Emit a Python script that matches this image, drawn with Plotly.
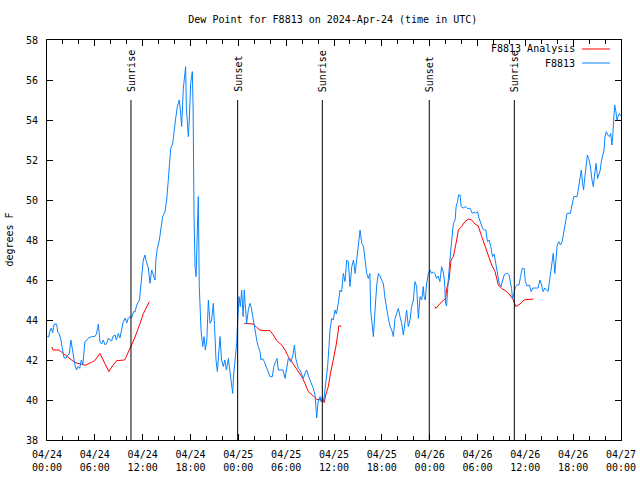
import pandas as pd
import plotly.graph_objects as go

BASE = pd.Timestamp("2024-04-24 00:00")

# ---- F8813 observations (hours after 04/24 00:00 UTC, dew point F) ----
obs_hours = [
    0.0, 0.2, 0.4, 0.55, 0.7, 0.9, 1.2, 1.35, 1.55, 1.75, 1.95, 2.15, 2.4, 2.6, 2.8, 3.0, 3.2, 3.5, 3.7, 3.9,
    4.1, 4.3, 4.5, 4.75, 5.0, 5.2, 5.6, 6.0, 6.2, 6.45, 6.65, 6.85, 7.05, 7.3, 7.5, 7.7, 7.9, 8.1, 8.3, 8.55,
    8.7, 8.95, 9.15, 9.35, 9.55, 9.8, 10.0, 10.2, 10.4, 10.6, 10.85, 11.05, 11.25, 11.6, 11.87, 12.08, 12.29, 12.4, 12.71, 12.92,
    13.13, 13.35, 13.55, 13.67, 13.84, 14.09, 14.26, 14.51, 14.8, 15.01, 15.18, 15.35, 15.52, 15.77, 15.93, 16.14, 16.35, 16.6, 16.75, 16.89,
    17.1, 17.27, 17.39, 17.48, 17.73, 17.85, 18.02, 18.23, 18.33, 18.44, 18.57, 18.7, 18.86, 18.98, 19.1, 19.32, 19.53, 19.7, 19.86, 20.05,
    20.24, 20.45, 20.65, 20.86, 21.0, 21.2, 21.37, 21.5, 21.7, 21.9, 22.12, 22.3, 22.5, 22.75, 22.95, 23.17, 23.29, 23.4, 23.58, 23.79,
    23.92, 24.09, 24.25, 24.42, 24.6, 24.75, 24.85, 25.04, 25.25, 25.46, 25.6, 25.8, 26.0, 26.17, 26.34, 26.51, 26.72, 26.84, 27.05, 27.26,
    27.47, 27.68, 27.97, 28.27, 28.45, 28.68, 28.85, 29.02, 29.6, 29.86, 30.05, 30.27, 30.6, 30.85, 31.03, 31.2, 31.36, 31.53, 31.75, 31.95,
    32.15, 32.35, 32.57, 32.8, 33.0, 33.2, 33.4, 33.62, 33.83, 34.0, 34.25, 34.4, 34.55, 34.7, 34.87, 35.04, 35.2, 35.37, 35.5, 35.71,
    35.9, 36.13, 36.3, 36.54, 36.75, 36.96, 37.17, 37.38, 37.6, 37.8, 37.9, 38.0, 38.23, 38.44, 38.65, 38.85, 39.06, 39.27, 39.48, 39.69,
    39.9, 40.1, 40.31, 40.5, 40.6, 40.77, 40.94, 41.15, 41.36, 41.57, 41.78, 41.98, 42.2, 42.4, 42.6, 42.82, 43.03, 43.24, 43.45, 43.65,
    43.86, 44.07, 44.28, 44.49, 44.7, 44.9, 45.11, 45.32, 45.53, 45.74, 45.95, 46.16, 46.37, 46.58, 46.79, 47.0, 47.2, 47.3, 47.45, 47.6,
    47.83, 48.05, 48.25, 48.45, 48.65, 48.86, 49.07, 49.28, 49.5, 49.7, 49.85, 50.0, 50.12, 50.33, 50.48, 50.65, 50.77, 50.98, 51.19, 51.32,
    51.5, 51.61, 51.82, 51.95, 52.2, 52.5, 52.73, 53.05, 53.36, 53.57, 53.78, 54.0, 54.2, 54.41, 54.62, 54.83, 55.04, 55.25, 55.46, 55.67,
    55.88, 56.09, 56.3, 56.5, 56.72, 56.93, 57.14, 57.35, 57.55, 57.76, 57.97, 58.1, 58.27, 58.39, 58.52, 58.62, 58.77, 59.0, 59.2, 59.4,
    59.6, 59.85, 60.0, 60.2, 60.5, 60.74, 60.95, 61.4, 61.6, 61.82, 62.0, 62.23, 62.44, 62.65, 62.86, 63.08, 63.29, 63.5, 63.7, 63.85,
    64.0, 64.2, 64.4, 64.62, 64.83, 64.95, 65.23, 65.65, 65.85, 66.07, 66.5, 66.7, 66.9, 67.02, 67.18, 67.3, 67.45, 67.61, 67.78, 67.95,
    68.15, 68.36, 68.53, 68.7, 68.86, 69.07, 69.2, 69.4, 69.53, 69.7, 69.87, 69.99, 70.16, 70.33, 70.54, 70.7, 70.87, 71.0, 71.12, 71.2,
    71.37, 71.5, 71.62, 71.8, 71.95,
]
obs_values = [
    43.2, 43.15, 43.5, 43.6, 43.35, 43.8, 43.8, 43.4, 43.3, 43.0, 42.5, 42.1, 42.1, 42.25, 42.3, 43.0, 42.5, 41.75, 41.5, 41.67,
    41.58, 42.0, 41.8, 42.9, 43.0, 43.1, 43.17, 43.17, 43.3, 43.8, 42.9, 42.8, 43.0, 42.75, 42.85, 43.1, 43.0, 42.95, 43.2, 43.25,
    43.0, 43.33, 43.1, 43.6, 43.9, 44.1, 43.85, 44.1, 44.17, 44.1, 44.42, 44.4, 44.75, 45.0, 46.17, 47.0, 47.25, 47.0, 46.6, 45.83,
    46.5, 46.17, 46.0, 47.08, 47.58, 48.0, 48.5, 49.17, 49.42, 50.0, 50.83, 51.67, 52.58, 52.83, 53.5, 54.08, 54.67, 55.0, 54.4, 53.67,
    55.58, 56.5, 56.67, 54.67, 53.17, 54.0, 55.83, 56.42, 54.5, 49.33, 46.67, 46.17, 49.17, 50.17, 45.67, 43.5, 42.67, 43.17, 42.5, 43.0,
    45.0, 43.83, 44.0, 44.83, 43.83, 42.0, 41.42, 42.17, 43.17, 42.0, 41.67, 42.0, 41.5, 42.08, 41.33, 40.58, 40.33, 41.2, 42.0, 42.83,
    44.0, 45.17, 44.67, 45.5, 44.17, 45.5, 44.83, 43.83, 44.5, 44.83, 44.67, 44.17, 43.83, 43.25, 42.92, 42.67, 42.42, 42.0, 42.08, 41.92,
    41.67, 41.5, 41.17, 41.17, 41.67, 41.92, 42.08, 41.5, 41.5, 41.08, 41.67, 42.08, 41.9, 42.25, 42.75, 42.08, 41.83, 41.58, 41.5, 41.33,
    41.08, 41.33, 41.5, 41.2, 41.0, 40.75, 40.58, 40.25, 39.1, 39.9, 40.17, 39.9, 40.17, 39.92, 40.58, 41.0, 41.67, 42.67, 43.5, 44.08,
    44.0, 44.5, 44.3, 44.83, 45.5, 45.4, 46.33, 45.92, 47.0, 46.9, 45.8, 45.67, 46.67, 47.0, 46.33, 47.17, 47.75, 48.5, 47.83, 47.7,
    47.0, 46.33, 46.08, 46.33, 44.5, 43.67, 43.17, 44.5, 45.75, 46.33, 46.2, 46.0, 45.8, 45.08, 44.5, 44.08, 43.67, 43.5, 43.17, 44.08,
    44.33, 44.58, 44.17, 43.83, 43.25, 44.0, 44.5, 43.67, 44.0, 44.67, 45.0, 45.92, 45.67, 44.08, 45.17, 45.0, 45.67, 45.17, 45.0, 45.75,
    46.33, 46.5, 46.33, 46.4, 46.33, 46.08, 46.2, 45.92, 46.67, 46.4, 46.0, 44.83, 44.7, 46.0, 47.0, 47.5, 48.0, 48.83, 49.0, 49.67,
    49.92, 50.25, 50.25, 49.67, 49.6, 49.67, 49.58, 49.58, 49.33, 49.4, 49.33, 49.42, 49.08, 48.83, 48.6, 48.5, 48.5, 47.92, 48.0, 47.67,
    47.17, 47.3, 46.83, 46.33, 45.83, 45.67, 46.0, 46.25, 46.33, 46.33, 46.25, 46.0, 45.58, 45.08, 45.17, 45.42, 45.67, 45.75, 45.75, 46.17,
    46.58, 46.58, 45.92, 45.7, 45.75, 45.42, 45.6, 45.6, 45.6, 46.0, 45.8, 45.42, 45.6, 45.5, 45.42, 46.08, 46.67, 47.33, 46.33, 47.0,
    47.75, 47.92, 47.75, 47.92, 48.42, 48.75, 49.33, 49.33, 49.67, 50.17, 50.17, 50.67, 51.0, 51.5, 50.83, 50.5, 51.08, 51.67, 52.25, 52.08,
    51.7, 51.0, 50.67, 51.3, 51.83, 51.08, 51.25, 51.5, 51.92, 52.17, 52.5, 53.17, 53.42, 53.25, 53.17, 53.33, 52.75, 53.42, 54.33, 54.75,
    54.4, 54.0, 54.17, 54.33, 54.2,
]

# ---- F8813 Analysis (three daytime segments) ----
ana1_hours = [0.6, 0.75, 1.5, 2.25, 3.0, 3.5, 4.25, 4.75, 5.5, 6.0, 6.65, 7.25, 7.75, 8.3, 8.75, 9.75, 10.4, 11.0, 11.67, 12.1, 12.84]
ana1_values = [42.65, 42.5, 42.5, 42.25, 42.0, 41.87, 41.8, 41.73, 41.87, 41.97, 42.33, 41.8, 41.42, 41.75, 41.97, 42.0, 42.6, 43.1, 43.83, 44.33, 44.92]
ana2_hours = [24.75, 25.3, 25.9, 26.3, 26.72, 27.35, 27.97, 28.39, 28.81, 29.44, 29.86, 30.27, 30.69, 31.11, 31.53, 31.95, 32.36, 32.78,
              33.4, 33.83, 34.46, 34.79, 34.96, 35.29, 35.5, 35.9, 36.25, 36.55, 36.6, 36.9]
ana2_values = [43.83, 43.8, 43.8, 43.63, 43.5, 43.47, 43.47, 43.25, 42.97, 42.75, 42.5, 42.17, 41.92, 41.67, 41.42, 41.17, 40.83, 40.42,
               40.2, 40.03, 40.0, 39.87, 40.25, 40.67, 41.2, 42.0, 42.7, 43.5, 43.7, 43.7]
ana3_hours = [48.67, 48.8, 49.3, 49.7, 50.0, 50.14, 50.43, 50.68, 50.97, 51.39, 51.6, 52.0, 52.43, 52.85, 53.27, 53.69, 54.1, 54.53,
              54.94, 55.36, 55.78, 56.2, 56.61, 57.03, 57.66, 58.08, 58.5, 58.8, 59.33, 59.8, 60.4, 61.0]
ana3_values = [44.67, 44.58, 44.83, 45.0, 45.08, 45.58, 46.0, 47.0, 47.17, 48.0, 48.5, 48.67, 48.92, 49.05, 49.0, 48.8, 48.7, 48.17,
               47.67, 47.25, 46.75, 46.42, 45.75, 45.58, 45.42, 45.25, 45.0, 44.67, 44.8, 45.0, 45.03, 45.05]

# ---- Sun events ----
sun_labels = ["Sunrise", "Sunset", "Sunrise", "Sunset", "Sunrise"]
sun_times = ["2024-04-24 10:32", "2024-04-24 23:55", "2024-04-25 10:32", "2024-04-25 23:57", "2024-04-26 10:37"]
sun_line_top = 55.0

y_min, y_max = 38, 58
x_start, x_end = "2024-04-24 00:00", "2024-04-27 00:00"


def to_time(hours):
    return list(BASE + pd.to_timedelta(hours, unit="h"))


ana_x, ana_y = [], []
for hs, vs in [(ana1_hours, ana1_values), (ana2_hours, ana2_values), (ana3_hours, ana3_values)]:
    if ana_x:
        ana_x.append(None)
        ana_y.append(None)
    ana_x += to_time(hs)
    ana_y += vs

RED = "#ff0000"
BLUE = "#0a84ff"
FONT = "DejaVu Sans Mono"

fig = go.Figure()
fig.add_trace(go.Scatter(x=ana_x, y=ana_y, mode="lines", line=dict(color=RED, width=1),
                         name="F8813 Analysis", connectgaps=False, showlegend=False))
fig.add_trace(go.Scatter(x=to_time(obs_hours), y=obs_values, mode="lines", line=dict(color=BLUE, width=1),
                         name="F8813", showlegend=False))

for lab, t in zip(sun_labels, sun_times):
    fig.add_shape(type="line", xref="x", yref="y", x0=t, x1=t, y0=y_min, y1=sun_line_top,
                  line=dict(color="black", width=1))
    fig.add_annotation(x=t, y=sun_line_top, xref="x", yref="y", text=lab, textangle=-90,
                       showarrow=False, xanchor="center", yanchor="bottom", yshift=6,
                       font=dict(family=FONT, size=10, color="black"))

# gnuplot-style legend: text on the left, line sample on the right
for i, (name, col) in enumerate([("F8813 Analysis", RED), ("F8813", BLUE)]):
    yp = 0.9775 - i * 0.035
    fig.add_annotation(x=0.923, y=yp, xref="paper", yref="paper", text=name, showarrow=False,
                       xanchor="right", yanchor="middle", font=dict(family=FONT, size=10, color="black"))
    fig.add_shape(type="line", xref="paper", yref="paper", x0=0.932, x1=0.981, y0=yp, y1=yp,
                  line=dict(color=col, width=1))

fig.add_annotation(x=-0.067, y=0.5, xref="paper", yref="paper", text="degrees F", textangle=-90,
                   showarrow=False, xanchor="center", yanchor="middle",
                   font=dict(family=FONT, size=10, color="black"))

fig.update_layout(
    width=640, height=480,
    margin=dict(l=47, r=19, t=40, b=40, autoexpand=False),
    paper_bgcolor="white", plot_bgcolor="white",
    font=dict(family=FONT, size=10, color="black"),
    title=dict(text="Dew Point for F8813 on 2024-Apr-24 (time in UTC)", x=0.52, xref="container",
               xanchor="center", y=0.96, yanchor="middle", font=dict(family=FONT, size=10, color="black")),
    showlegend=False,
)
fig.update_xaxes(
    type="date", range=[x_start, x_end], tick0=x_start, dtick=6 * 3600 * 1000,
    tickformat="%m/%d<br>%H:%M", ticks="inside", ticklen=6, tickcolor="black",
    minor=dict(dtick=2 * 3600 * 1000, ticks="inside", ticklen=4, tickcolor="black"),
    showline=True, linecolor="black", linewidth=1, mirror="allticks",
    showgrid=False, zeroline=False, ticklabelstandoff=5, automargin=False,
)
fig.update_yaxes(
    range=[y_min, y_max], dtick=2, ticks="inside", ticklen=6, tickcolor="black",
    showline=True, linecolor="black", linewidth=1, mirror="allticks",
    showgrid=False, zeroline=False, ticklabelstandoff=6, automargin=False,
)

fig.write_html("out.html", config={"displayModeBar": False},
               post_script="document.body.style.margin='0px';document.body.style.overflow='hidden';")
